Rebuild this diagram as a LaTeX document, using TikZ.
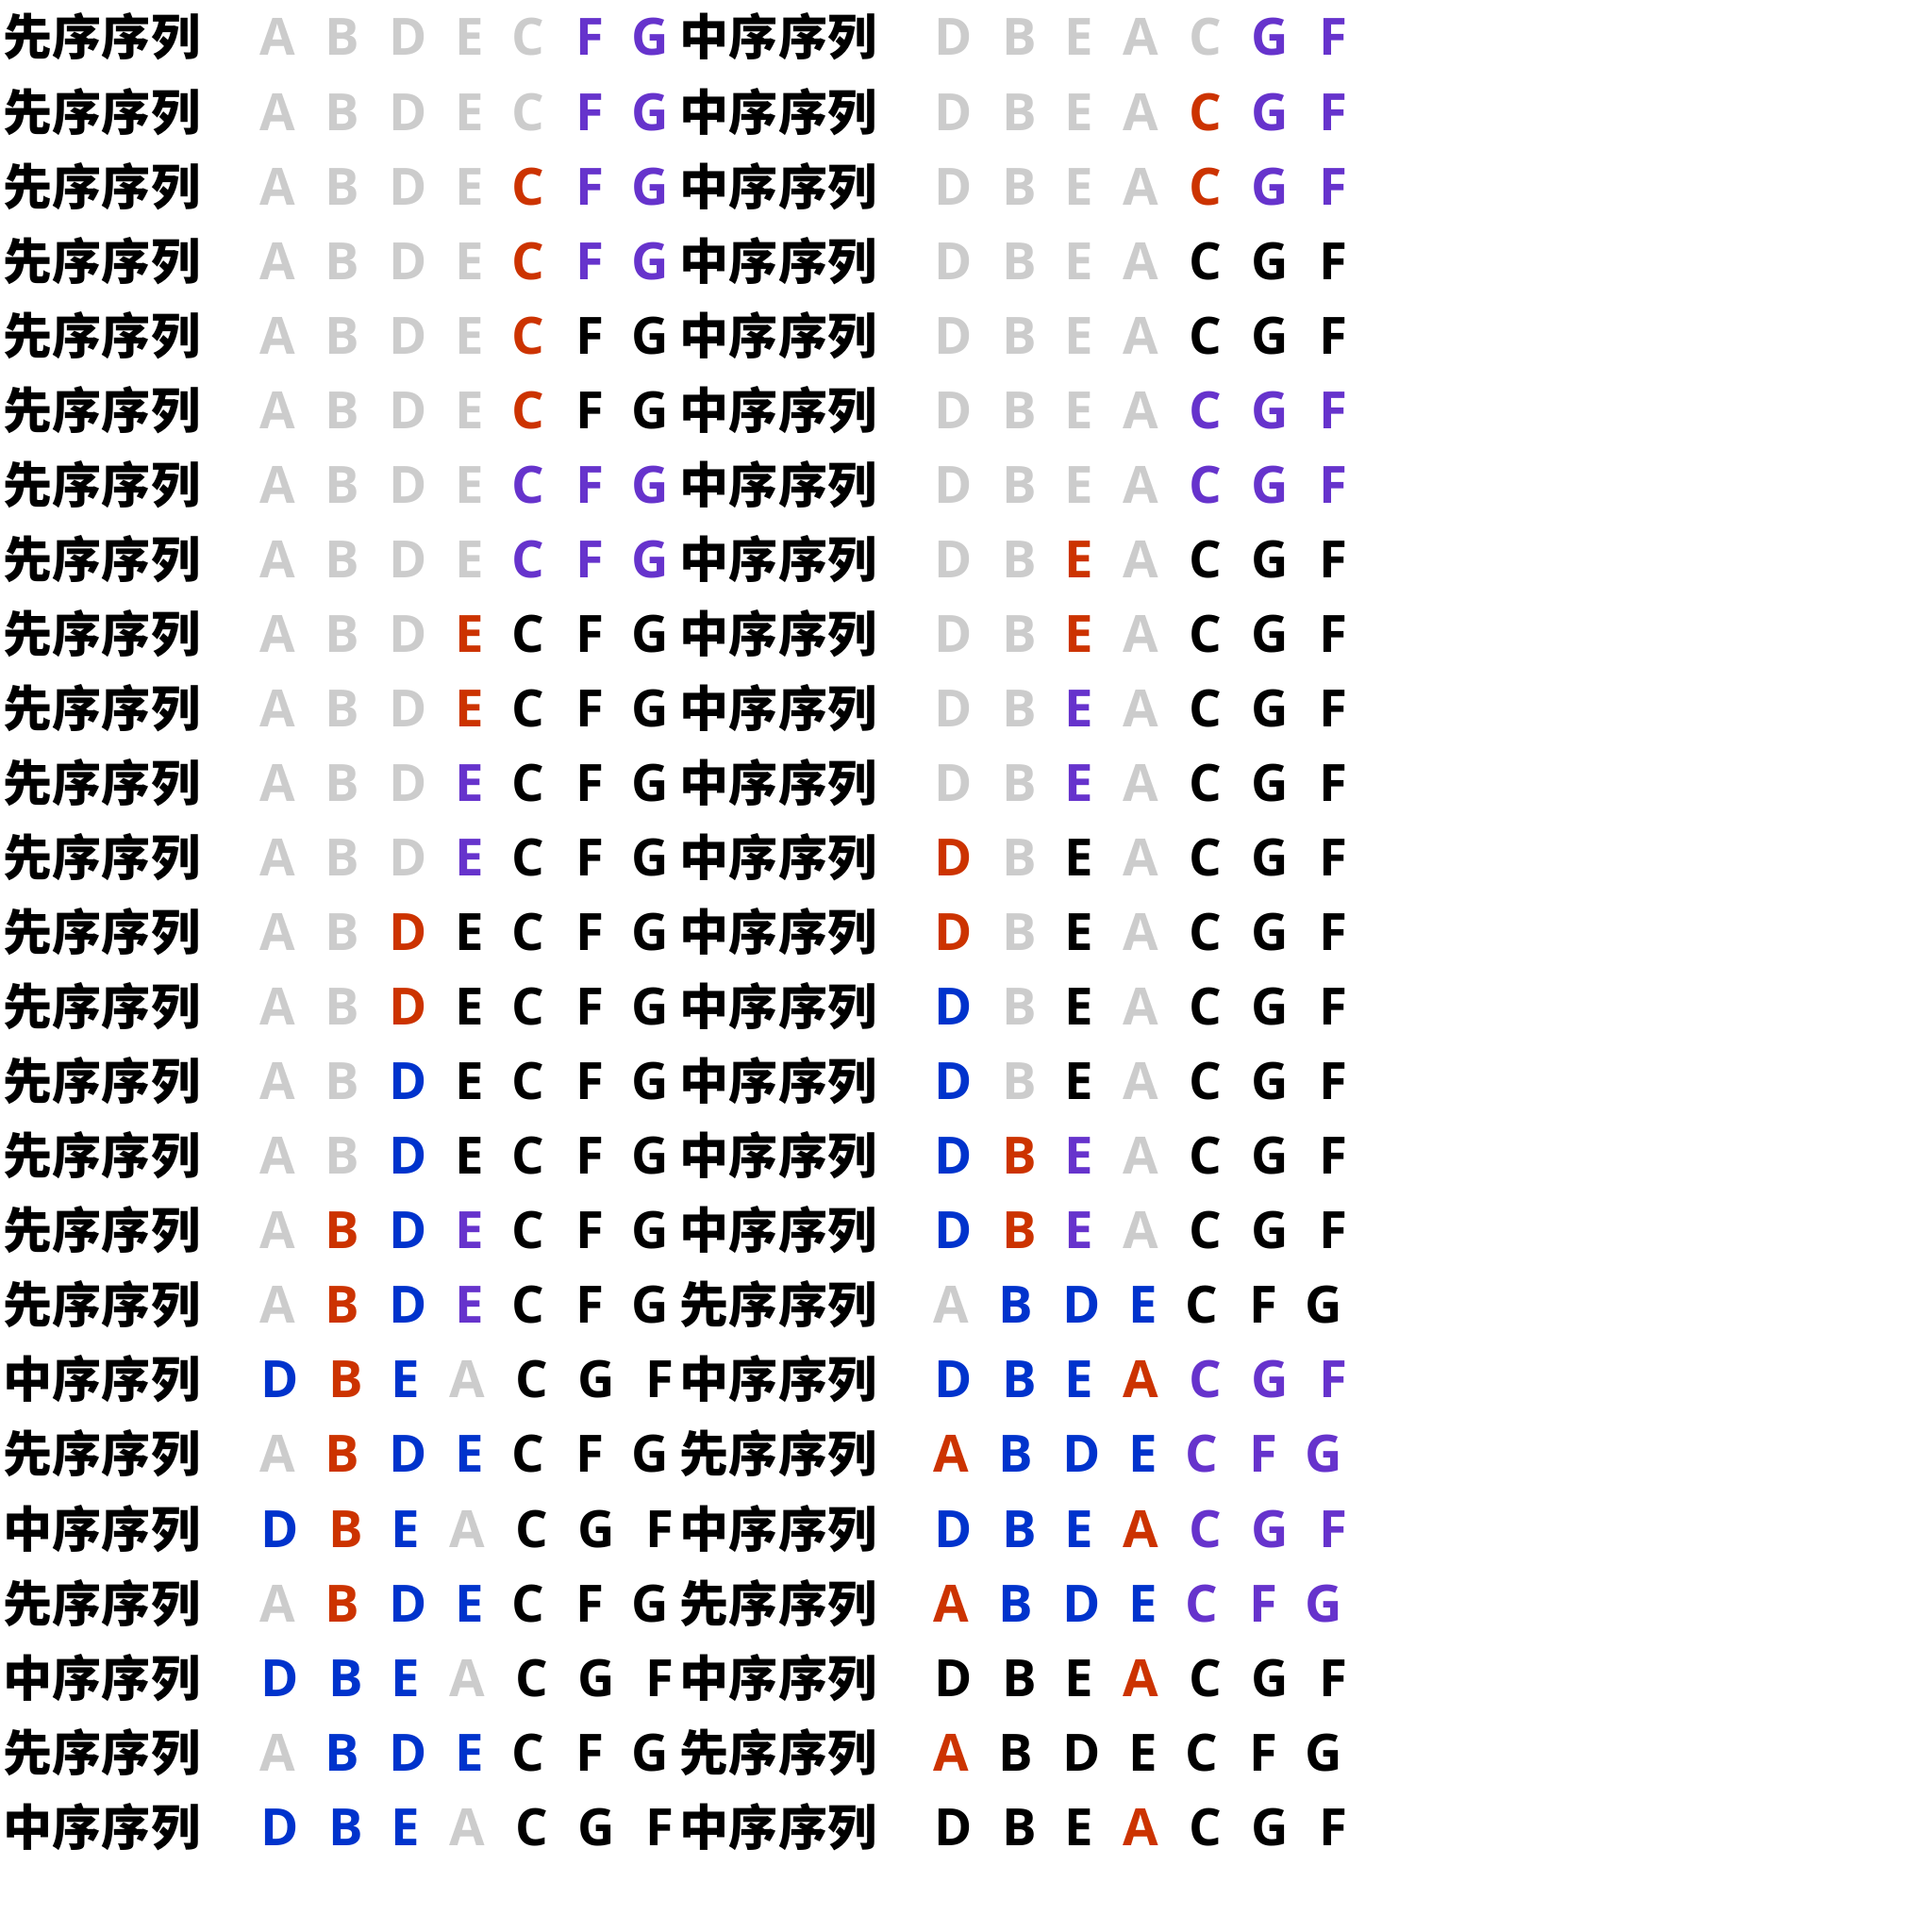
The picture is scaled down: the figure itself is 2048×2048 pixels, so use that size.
\documentclass[tikz,border=0pt]{standalone}
\usepackage{fontspec}
\usepackage{tikz}
\newfontfamily\cjkfont{Noto Sans CJK SC}
\newfontfamily\ltrfont{Open Sans}

\definecolor{cg}{HTML}{CCCCCC}
\definecolor{cp}{HTML}{6633CC}
\definecolor{cr}{HTML}{CC3300}
\definecolor{cb}{HTML}{0033CC}
\definecolor{ck}{HTML}{000000}

% labels, letter orders and column positions
\newcommand\labx{先序序列}
\newcommand\labz{中序序列}
\newcommand\ordx{{"A","B","D","E","C","F","G"}}
\newcommand\ordz{{"D","B","E","A","C","G","F"}}
\newcommand\posx{{294,363,433,498,560,625,689}}
\newcommand\posz{{297,367,430,495,564,632,699}}

\begin{document}
\begin{tikzpicture}[x=0.1mm, y=-0.1mm,
    lbl/.style={font=\cjkfont\bfseries\fontsize{14.8pt}{14.8pt}\selectfont, inner sep=0pt, anchor=base},
    ltr/.style={font=\ltrfont\bfseries\fontsize{15.5pt}{15.5pt}\selectfont, inner sep=0pt, anchor=base}]
    \useasboundingbox (0,0) rectangle (2048,2048);

    \foreach \i/\ka/\kb/\ca/\cb in {
        1/x/z/{cg,cg,cg,cg,cg,cp,cp}/{cg,cg,cg,cg,cg,cp,cp},
        2/x/z/{cg,cg,cg,cg,cg,cp,cp}/{cg,cg,cg,cg,cr,cp,cp},
        3/x/z/{cg,cg,cg,cg,cr,cp,cp}/{cg,cg,cg,cg,cr,cp,cp},
        4/x/z/{cg,cg,cg,cg,cr,cp,cp}/{cg,cg,cg,cg,ck,ck,ck},
        5/x/z/{cg,cg,cg,cg,cr,ck,ck}/{cg,cg,cg,cg,ck,ck,ck},
        6/x/z/{cg,cg,cg,cg,cr,ck,ck}/{cg,cg,cg,cg,cp,cp,cp},
        7/x/z/{cg,cg,cg,cg,cp,cp,cp}/{cg,cg,cg,cg,cp,cp,cp},
        8/x/z/{cg,cg,cg,cg,cp,cp,cp}/{cg,cg,cr,cg,ck,ck,ck},
        9/x/z/{cg,cg,cg,cr,ck,ck,ck}/{cg,cg,cr,cg,ck,ck,ck},
        10/x/z/{cg,cg,cg,cr,ck,ck,ck}/{cg,cg,cp,cg,ck,ck,ck},
        11/x/z/{cg,cg,cg,cp,ck,ck,ck}/{cg,cg,cp,cg,ck,ck,ck},
        12/x/z/{cg,cg,cg,cp,ck,ck,ck}/{cr,cg,ck,cg,ck,ck,ck},
        13/x/z/{cg,cg,cr,ck,ck,ck,ck}/{cr,cg,ck,cg,ck,ck,ck},
        14/x/z/{cg,cg,cr,ck,ck,ck,ck}/{cb,cg,ck,cg,ck,ck,ck},
        15/x/z/{cg,cg,cb,ck,ck,ck,ck}/{cb,cg,ck,cg,ck,ck,ck},
        16/x/z/{cg,cg,cb,ck,ck,ck,ck}/{cb,cr,cp,cg,ck,ck,ck},
        17/x/z/{cg,cr,cb,cp,ck,ck,ck}/{cb,cr,cp,cg,ck,ck,ck},
        18/x/x/{cg,cr,cb,cp,ck,ck,ck}/{cg,cb,cb,cb,ck,ck,ck},
        19/z/z/{cb,cr,cb,cg,ck,ck,ck}/{cb,cb,cb,cr,cp,cp,cp},
        20/x/x/{cg,cr,cb,cb,ck,ck,ck}/{cr,cb,cb,cb,cp,cp,cp},
        21/z/z/{cb,cr,cb,cg,ck,ck,ck}/{cb,cb,cb,cr,cp,cp,cp},
        22/x/x/{cg,cr,cb,cb,ck,ck,ck}/{cr,cb,cb,cb,cp,cp,cp},
        23/z/z/{cb,cb,cb,cg,ck,ck,ck}/{ck,ck,ck,cr,ck,ck,ck},
        24/x/x/{cg,cb,cb,cb,ck,ck,ck}/{cr,ck,ck,ck,ck,ck,ck},
        25/z/z/{cb,cb,cb,cg,ck,ck,ck}/{ck,ck,ck,cr,ck,ck,ck}}
    {
        \pgfmathsetmacro\yy{59+(\i-1)*79.05}
        \node[lbl] (la\i) at (108,\yy) {\csname lab\ka\endcsname};
        \node[lbl] (lb\i) at (825,\yy) {\csname lab\kb\endcsname};
        % left sequence
        \edef\pa{\csname pos\ka\endcsname}
        \edef\oa{\csname ord\ka\endcsname}
        \foreach \c [count=\j from 0] in \ca {
            \pgfmathsetmacro\xx{\pa[\j]}
            \pgfmathparse{\oa[\j]}\let\ch\pgfmathresult
            \node[ltr, text=\c] (a\i-\j) at (\xx,\yy) {\ch};
        }
        % right sequence
        \edef\pb{\csname pos\kb\endcsname}
        \edef\ob{\csname ord\kb\endcsname}
        \foreach \c [count=\j from 0] in \cb {
            \pgfmathsetmacro\xx{\pb[\j]}
            \pgfmathparse{\ob[\j]}\let\ch\pgfmathresult
            \node[ltr, text=\c] (b\i-\j) at (\xx+714,\yy) {\ch};
        }
    }
\end{tikzpicture}
\end{document}
